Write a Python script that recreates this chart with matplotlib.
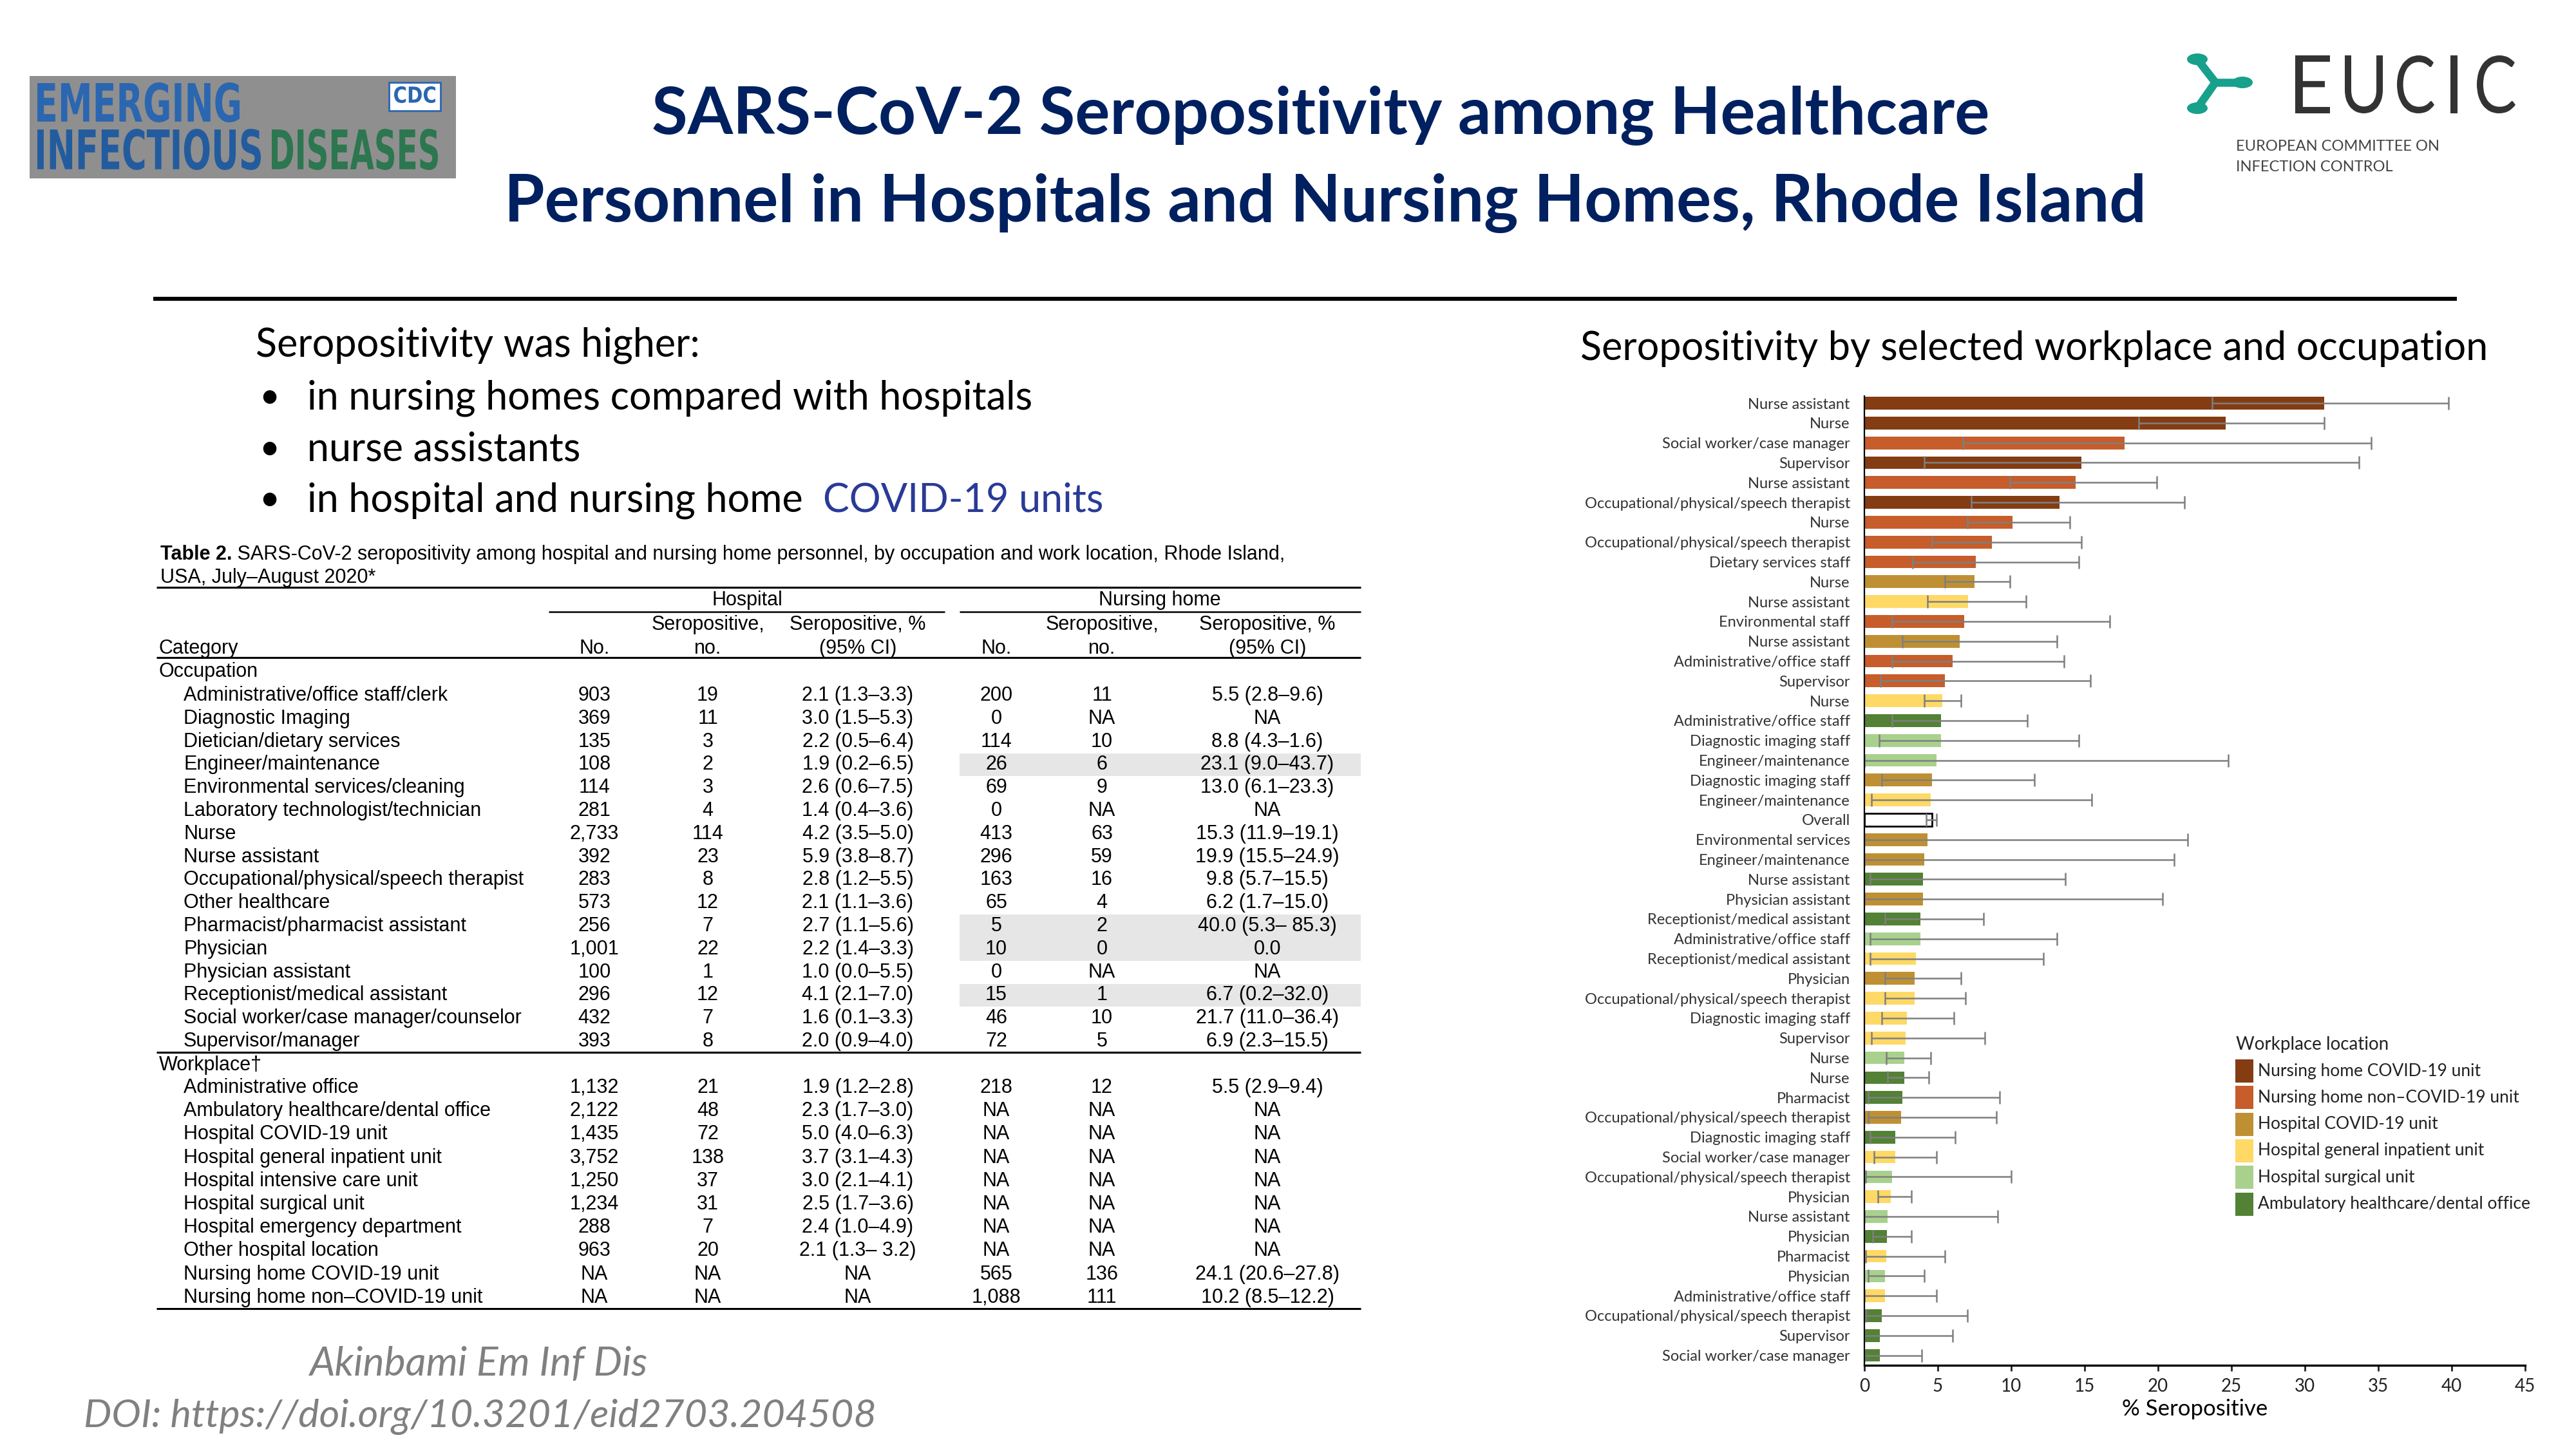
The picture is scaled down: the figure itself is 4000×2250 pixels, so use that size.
import numpy as np
import matplotlib
matplotlib.use("Agg")
import matplotlib.pyplot as plt
from matplotlib import font_manager
from matplotlib.lines import Line2D
from matplotlib.patches import Rectangle, Circle, PathPatch
from matplotlib.textpath import TextPath
from matplotlib.font_manager import FontProperties
from matplotlib.transforms import Affine2D

# ---- bar chart data ----
bar_labels = [
    "Nurse assistant", "Nurse", "Social worker/case manager", "Supervisor", "Nurse assistant",
    "Occupational/physical/speech therapist", "Nurse", "Occupational/physical/speech therapist",
    "Dietary services staff", "Nurse", "Nurse assistant", "Environmental staff", "Nurse assistant",
    "Administrative/office staff", "Supervisor", "Nurse", "Administrative/office staff",
    "Diagnostic imaging staff", "Engineer/maintenance", "Diagnostic imaging staff",
    "Engineer/maintenance", "Overall", "Environmental services", "Engineer/maintenance",
    "Nurse assistant", "Physician assistant", "Receptionist/medical assistant",
    "Administrative/office staff", "Receptionist/medical assistant", "Physician",
    "Occupational/physical/speech therapist", "Diagnostic imaging staff", "Supervisor",
    "Nurse", "Nurse", "Pharmacist", "Occupational/physical/speech therapist",
    "Diagnostic imaging staff", "Social worker/case manager", "Occupational/physical/speech therapist",
    "Physician", "Nurse assistant", "Physician", "Pharmacist", "Physician",
    "Administrative/office staff", "Occupational/physical/speech therapist", "Supervisor",
    "Social worker/case manager",
]
bar_place = [
    "NHC", "NHC", "NHN", "NHC", "NHN", "NHC", "NHN", "NHN", "NHN", "HC", "HG", "NHN", "HC",
    "NHN", "NHN", "HG", "AMB", "HS", "HS", "HC", "HG", "ALL", "HC", "HC", "AMB", "HC", "AMB",
    "HS", "HG", "HC", "HG", "HG", "HG", "HS", "AMB", "AMB", "HC", "AMB", "HG", "HS", "HG",
    "HS", "AMB", "HG", "HS", "HG", "AMB", "AMB", "AMB",
]
pct = np.array([
    31.3, 24.6, 17.7, 14.8, 14.4, 13.3, 10.1, 8.7, 7.6, 7.5, 7.05, 6.8, 6.5, 6.0, 5.5, 5.3,
    5.2, 5.2, 4.9, 4.6, 4.5, 4.6, 4.3, 4.1, 4.0, 4.0, 3.8, 3.8, 3.5, 3.4, 3.4, 2.9, 2.8,
    2.7, 2.7, 2.6, 2.5, 2.1, 2.1, 1.9, 1.8, 1.6, 1.55, 1.5, 1.4, 1.4, 1.2, 1.05, 1.05,
])
ci_low = np.array([
    23.7, 18.7, 6.7, 4.1, 9.9, 7.3, 7.0, 4.6, 3.3, 5.5, 4.3, 1.9, 2.6, 1.9, 1.1, 4.1,
    1.9, 1.0, 0.0, 1.2, 0.5, 4.2, 0.0, 0.0, 0.4, 0.0, 1.4, 0.4, 0.4, 1.4, 1.4, 1.2, 0.5,
    1.5, 1.6, 0.25, 0.25, 0.4, 0.65, 0.1, 0.9, 0.0, 0.55, 0.1, 0.25, 0.0, 0.1, 0.0, 0.0,
])
ci_high = np.array([
    39.8, 31.3, 34.5, 33.7, 19.9, 21.8, 14.0, 14.8, 14.6, 9.9, 11.0, 16.7, 13.1, 13.6, 15.4, 6.6,
    11.1, 14.6, 24.8, 11.6, 15.5, 4.9, 22.0, 21.1, 13.7, 20.3, 8.1, 13.1, 12.2, 6.6, 6.9, 6.1, 8.2,
    4.5, 4.4, 9.2, 9.0, 6.2, 4.9, 10.0, 3.2, 9.1, 3.2, 5.5, 4.1, 4.9, 7.0, 6.0, 3.9,
])
place_names = {
    "NHC": "Nursing home COVID-19 unit",
    "NHN": "Nursing home non\u2013COVID-19 unit",
    "HC": "Hospital COVID-19 unit",
    "HG": "Hospital general inpatient unit",
    "HS": "Hospital surgical unit",
    "AMB": "Ambulatory healthcare/dental office",
}
place_colors = {
    "NHC": "#843C12", "NHN": "#C65D2A", "HC": "#BF9033",
    "HG": "#FFD966", "HS": "#A9D18E", "AMB": "#538135", "ALL": "white",
}
x_ticks = [0, 5, 10, 15, 20, 25, 30, 35, 40, 45]

# ---- table data ----
occupations = [
    "Administrative/office staff/clerk", "Diagnostic Imaging", "Dietician/dietary services",
    "Engineer/maintenance", "Environmental services/cleaning", "Laboratory technologist/technician",
    "Nurse", "Nurse assistant", "Occupational/physical/speech therapist", "Other healthcare",
    "Pharmacist/pharmacist assistant", "Physician", "Physician assistant",
    "Receptionist/medical assistant", "Social worker/case manager/counselor", "Supervisor/manager",
]
occ_hosp_no = ["903", "369", "135", "108", "114", "281", "2,733", "392", "283", "573", "256",
               "1,001", "100", "296", "432", "393"]
occ_hosp_pos = ["19", "11", "3", "2", "3", "4", "114", "23", "8", "12", "7", "22", "1", "12", "7", "8"]
occ_hosp_pct = ["2.1 (1.3\u20133.3)", "3.0 (1.5\u20135.3)", "2.2 (0.5\u20136.4)", "1.9 (0.2\u20136.5)",
                "2.6 (0.6\u20137.5)", "1.4 (0.4\u20133.6)", "4.2 (3.5\u20135.0)", "5.9 (3.8\u20138.7)",
                "2.8 (1.2\u20135.5)", "2.1 (1.1\u20133.6)", "2.7 (1.1\u20135.6)", "2.2 (1.4\u20133.3)",
                "1.0 (0.0\u20135.5)", "4.1 (2.1\u20137.0)", "1.6 (0.1\u20133.3)", "2.0 (0.9\u20134.0)"]
occ_nh_no = ["200", "0", "114", "26", "69", "0", "413", "296", "163", "65", "5", "10", "0",
             "15", "46", "72"]
occ_nh_pos = ["11", "NA", "10", "6", "9", "NA", "63", "59", "16", "4", "2", "0", "NA", "1", "10", "5"]
occ_nh_pct = ["5.5 (2.8\u20139.6)", "NA", "8.8 (4.3\u20131.6)", "23.1 (9.0\u201343.7)",
              "13.0 (6.1\u201323.3)", "NA", "15.3 (11.9\u201319.1)", "19.9 (15.5\u201324.9)",
              "9.8 (5.7\u201315.5)", "6.2 (1.7\u201315.0)", "40.0 (5.3\u2013 85.3)", "0.0", "NA",
              "6.7 (0.2\u201332.0)", "21.7 (11.0\u201336.4)", "6.9 (2.3\u201315.5)"]
shaded_occ = [3, 10, 11, 13]

workplaces = [
    "Administrative office", "Ambulatory healthcare/dental office", "Hospital COVID-19 unit",
    "Hospital general inpatient unit", "Hospital intensive care unit", "Hospital surgical unit",
    "Hospital emergency department", "Other hospital location", "Nursing home COVID-19 unit",
    "Nursing home non\u2013COVID-19 unit",
]
wp_hosp_no = ["1,132", "2,122", "1,435", "3,752", "1,250", "1,234", "288", "963", "NA", "NA"]
wp_hosp_pos = ["21", "48", "72", "138", "37", "31", "7", "20", "NA", "NA"]
wp_hosp_pct = ["1.9 (1.2\u20132.8)", "2.3 (1.7\u20133.0)", "5.0 (4.0\u20136.3)", "3.7 (3.1\u20134.3)",
               "3.0 (2.1\u20134.1)", "2.5 (1.7\u20133.6)", "2.4 (1.0\u20134.9)", "2.1 (1.3\u2013 3.2)",
               "NA", "NA"]
wp_nh_no = ["218", "NA", "NA", "NA", "NA", "NA", "NA", "NA", "565", "1,088"]
wp_nh_pos = ["12", "NA", "NA", "NA", "NA", "NA", "NA", "NA", "136", "111"]
wp_nh_pct = ["5.5 (2.9\u20139.4)", "NA", "NA", "NA", "NA", "NA", "NA", "NA",
             "24.1 (20.6\u201327.8)", "10.2 (8.5\u201312.2)"]

bullets = ["in nursing homes compared with hospitals", "nurse assistants",
           "in hospital and nursing home  "]

# ---- figure setup ----
plt.rcParams["font.family"] = ["Lato", "DejaVu Sans"]
W, H = 4000, 2250
fig = plt.figure(figsize=(40, 22.5), dpi=100)
fig.patch.set_facecolor("white")

installed = {f.name for f in font_manager.fontManager.ttflist}
TFONT = "Liberation Sans Narrow" if "Liberation Sans Narrow" in installed else "Liberation Sans"
TSIZE = 27.5 if TFONT == "Liberation Sans Narrow" else 22


def fx(x):
    return x / W


def fy(y):
    return 1 - y / H


def put(x, y, s, **kw):
    return fig.text(fx(x), fy(y), s, **kw)


def put_after(t, s, gap=0, **kw):
    bb = t.get_window_extent(renderer=fig.canvas.get_renderer())
    x, y = t.get_position()
    return fig.text(bb.x1 / W + gap / W, y, s, **kw)


def hline(x0, x1, y, lw, color="black"):
    fig.add_artist(Line2D([fx(x0), fx(x1)], [fy(y), fy(y)], lw=lw, color=color,
                          transform=fig.transFigure, solid_capstyle="butt"))


def rect(x0, y0, x1, y1, **kw):
    fig.add_artist(Rectangle((fx(x0), fy(y1)), fx(x1) - fx(x0), fy(y0) - fy(y1),
                             transform=fig.transFigure, **kw))


def box_text(s, x0, y0, x1, y1, color, family="DejaVu Sans", weight="bold"):
    # text path stretched to fill a box given in slide pixels
    tp = TextPath((0, 0), s, size=100, prop=FontProperties(family=family, weight=weight))
    bb = tp.get_extents()
    tr = (Affine2D().translate(-bb.x0, -bb.y0)
          .scale((x1 - x0) / bb.width, (y1 - y0) / bb.height)
          .translate(x0, H - y1).scale(1 / W, 1 / H))
    fig.add_artist(PathPatch(tr.transform_path(tp), fc=color, ec="none",
                             transform=fig.transFigure))


# ---- header: logos and title ----
rect(46, 118, 708, 277, fc="#8F8F8F", ec="none")
box_text("EMERGING", 58, 128, 372, 190, "#2B66B0")
box_text("INFECTIOUS", 58, 200, 405, 264, "#235C9E")
box_text("DISEASES", 422, 200, 680, 264, "#2C7650")
rect(604, 128, 684, 172, fc="white", ec="#2B66B0", lw=2)
box_text("CDC", 612, 134, 676, 160, "#2B66B0")

put(2051, 180, "SARS-CoV-2 Seropositivity among Healthcare", fontsize=73,
    fontweight="bold", color="#002060", ha="center", va="center")
put(2058, 315, "Personnel in Hospitals and Nursing Homes, Rhode Island", fontsize=73,
    fontweight="bold", color="#002060", ha="center", va="center")

# EUCIC mark
teal = "#17A08C"
hub = (3440, 128)
for (cx, cy) in [(3412, 92), (3412, 168), (3482, 128)]:
    fig.add_artist(Line2D([fx(hub[0]), fx(cx)], [fy(hub[1]), fy(cy)], lw=9, color=teal,
                          transform=fig.transFigure, solid_capstyle="round"))
    fig.add_artist(Circle((fx(cx), fy(cy)), 16 / W, transform=fig.transFigure, fc=teal, ec="none"))
for letter, (lx0, lx1) in zip("EUCIC", [(3564, 3618), (3641, 3700), (3722, 3780),
                                       (3805, 3816), (3846, 3906)]):
    box_text(letter, lx0, 86, lx1, 176, "#333333", family="Lato", weight="normal")
put(3472, 228, "EUROPEAN COMMITTEE ON", fontsize=17, color="#444444", va="center")
put(3472, 259, "INFECTION CONTROL", fontsize=17, color="#444444", va="center")

hline(238, 3815, 464, 4.5)

# ---- left text ----
put(397, 536, "Seropositivity was higher:", fontsize=44, va="center")
last = None
for i, b in enumerate(bullets):
    yb = 618 + i * 79.5
    put(402, yb, "\u2022", fontsize=40, va="center")
    last = put(477, yb, b, fontsize=44, va="center")
put_after(last, "COVID-19 units", fontsize=44, va="center", color="#2A3A97")

# ---- table ----
tk = dict(family=TFONT, fontsize=TSIZE, va="center")
t2 = put(249, 861, "Table 2.", fontweight="bold", **tk)
put_after(t2, " SARS-CoV-2 seropositivity among hospital and nursing home personnel, by occupation "
              "and work location, Rhode Island,", **tk)
put(249, 897, "USA, July\u2013August 2020*", **tk)

hline(243, 2113, 912, 2.2)
hline(852, 1467, 950, 1.8)
hline(1490, 2113, 950, 1.8)
hline(243, 2113, 1021, 2.2)

put(1160, 932, "Hospital", ha="center", **tk)
put(1801, 932, "Nursing home", ha="center", **tk)
for cx_pos, cx_pct in [(1099, 1332), (1711, 1968)]:
    put(cx_pos, 970, "Seropositive,", ha="center", **tk)
    put(cx_pos, 1007, "no.", ha="center", **tk)
    put(cx_pct, 970, "Seropositive, %", ha="center", **tk)
    put(cx_pct, 1007, "(95% CI)", ha="center", **tk)
put(923, 1007, "No.", ha="center", **tk)
put(1547, 1007, "No.", ha="center", **tk)
put(247, 1007, "Category", **tk)

col_x = [923, 1099, 1332, 1547, 1711, 1968]


def table_block(y0, step, names, cols, shaded):
    for i, name in enumerate(names):
        yr = y0 + i * step
        if i in shaded:
            rect(1490, yr - step / 2, 2113, yr + step / 2, fc="#E6E6E6", ec="none", zorder=0)
        put(285, yr, name, **tk)
        for cx, col in zip(col_x, cols):
            put(cx, yr, col[i], ha="center", **tk)


put(247, 1043, "Occupation", **tk)
table_block(1080, 35.8, occupations,
            [occ_hosp_no, occ_hosp_pos, occ_hosp_pct, occ_nh_no, occ_nh_pos, occ_nh_pct], shaded_occ)
hline(243, 2113, 1634, 2.2)
put(247, 1654, "Workplace\u2020", **tk)
table_block(1689, 36.2, workplaces,
            [wp_hosp_no, wp_hosp_pos, wp_hosp_pct, wp_nh_no, wp_nh_pos, wp_nh_pct], [])
hline(243, 2113, 2032, 2.2)

# ---- citation ----
put(743, 2118, "Akinbami Em Inf Dis", fontsize=45, style="italic", color="#808080",
    ha="center", va="center")
put(745, 2200, "DOI: https://doi.org/10.3201/eid2703.204508", fontsize=44, style="italic",
    color="#808080", ha="center", va="center")

# ---- bar chart ----
put(2454, 541, "Seropositivity by selected workplace and occupation", fontsize=44, va="center")

ax = fig.add_axes([fx(2895), fy(2120), fx(3921) - fx(2895), fy(615) - fy(2120)])
n = len(pct)
ypos = np.arange(n)
colors = [place_colors[p] for p in bar_place]
edges = ["black" if p == "ALL" else "none" for p in bar_place]
ax.barh(ypos, pct, height=0.64, color=colors, edgecolor=edges, linewidth=2)
ax.errorbar(pct, ypos, xerr=[pct - ci_low, ci_high - pct], fmt="none", ecolor="#7F7F7F",
            elinewidth=1.8, capsize=7, capthick=1.8)
ax.set_ylim(n - 0.5, -0.36)
ax.set_xlim(0, 45)
ax.set_xticks(x_ticks)
ax.set_yticks(ypos)
ax.set_yticklabels(bar_labels, fontsize=17, color="#333333")
ax.tick_params(axis="y", length=0, pad=16)
ax.tick_params(axis="x", length=6.5, width=2, labelsize=20, pad=8, colors="#222222")
ax.set_xlabel("% Seropositive", fontsize=25, labelpad=4)
for side in ["top", "right"]:
    ax.spines[side].set_visible(False)
ax.spines["left"].set_linewidth(1.6)
ax.spines["bottom"].set_linewidth(2.4)

# legend drawn by hand so the swatches stack like the original
put(3472, 1622, "Workplace location", fontsize=20, color="#222222", va="center")
for i, (key, name) in enumerate(place_names.items()):
    ye = 1663 + i * 41.3
    rect(3471, ye - 18, 3499, ye + 18, fc=place_colors[key], ec="none")
    put(3506, ye, name, fontsize=19, color="#222222", va="center")

fig.savefig("out.png", dpi=100, facecolor="white")
